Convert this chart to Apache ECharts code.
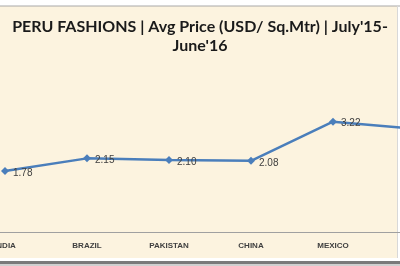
<!DOCTYPE html>
<html><head><meta charset="utf-8">
<script src="https://cdn.jsdelivr.net/npm/echarts@6/dist/echarts.min.js"></script>
<style>html,body{margin:0;padding:0;background:#fff}#c{width:400px;height:266px}</style>
</head><body><div id="c"></div>
<script>
var categories = ['INDIA','BRAZIL','PAKISTAN','CHINA','MEXICO','USA'];
var avgPrice = [1.78, 2.15, 2.10, 2.08, 3.22, 3.01];
var titleText = "PERU FASHIONS | Avg Price (USD/ Sq.Mtr) | July'15-\nJune'16";

var chart = echarts.init(document.getElementById('c'), null, {renderer:'canvas'});
chart.setOption({
  animation:false,
  backgroundColor:'#fff',
  graphic:[
    {type:'rect', z:-10, shape:{x:0,y:6,width:398,height:252}, style:{fill:'#fcf3df'}},
    {type:'line', z:-5, shape:{x1:0,y1:6,x2:400,y2:6}, style:{stroke:'#a8a8a8',lineWidth:1}},
    {type:'line', z:-5, shape:{x1:397.5,y1:6,x2:397.5,y2:258}, style:{stroke:'#d8d8d8',lineWidth:1}},
    {type:'rect', z:-5, shape:{x:0,y:261,width:400,height:3}, style:{fill:'#7a7a7a'}},
    {type:'rect', z:-5, shape:{x:0,y:264,width:400,height:2}, style:{fill:'#d0d0d0'}}
  ],
  title:{
    text:titleText, left:'center', top:12,
    textStyle:{fontFamily:'Lato', fontWeight:'bold', fontSize:16, color:'#1a1a1a', lineHeight:19}
  },
  grid:{left:-36, top:95, width:492, height:137, containLabel:false, outerBoundsMode:'none'},
  xAxis:{
    type:'category', data:categories, boundaryGap:true,
    axisLine:{lineStyle:{color:'#a0a0a0', width:1}},
    axisTick:{show:false},
    axisLabel:{fontFamily:'Liberation Sans', fontWeight:'bold', fontSize:8, color:'#404040', margin:10, interval:0}
  },
  yAxis:{type:'value', min:0, max:4, show:false, splitLine:{show:false}},
  series:[{
    type:'line', data:avgPrice,
    symbol:'diamond', symbolSize:8,
    lineStyle:{color:'#4a7ebb', width:2.5},
    itemStyle:{color:'#4a7ebb'},
    label:{show:true, position:'right', distance:4, formatter:function(p){return p.value.toFixed(2);},
      fontFamily:'Liberation Sans', fontSize:10, color:'#404040', offset:[0,2]}
  }]
});
</script></body></html>
